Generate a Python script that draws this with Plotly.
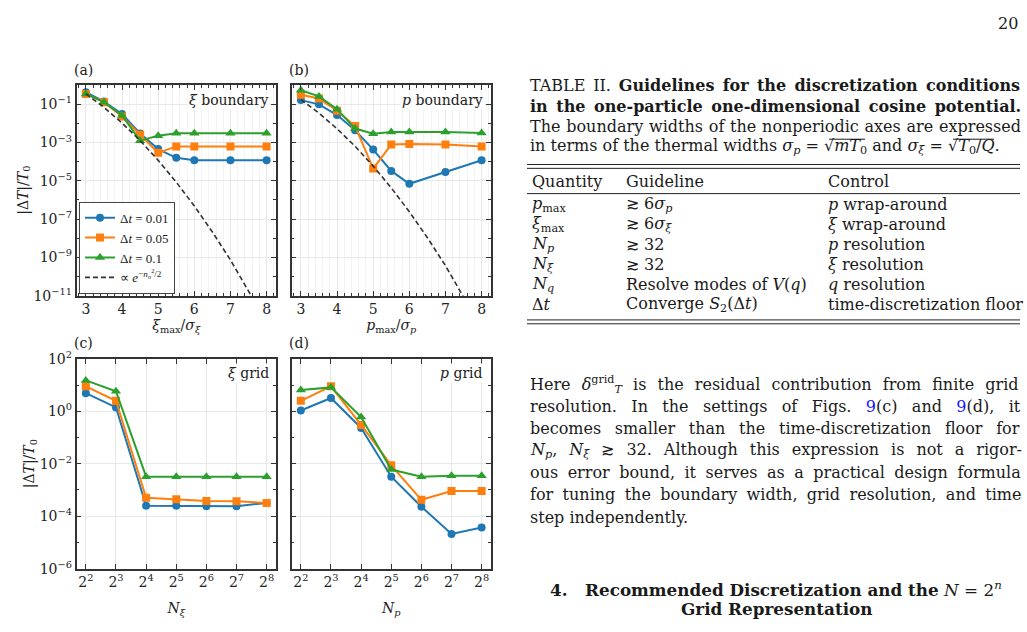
import plotly.graph_objects as go

W, H = 1027, 632

# ---------------- data ----------------
xi_max = [3, 3.5, 4, 4.5, 5, 5.5, 6, 7, 8]
a_dt001 = [0.43, 0.14, 0.031, 3.0e-3, 4.6e-4, 1.6e-4, 1.2e-4, 1.2e-4, 1.2e-4]
a_dt005 = [0.35, 0.13, 0.023, 2.6e-3, 2.9e-4, 6.3e-4, 6.3e-4, 6.3e-4, 6.3e-4]
a_dt01 = [0.35, 0.13, 0.026, 1.26e-3, 2.3e-3, 3.1e-3, 3.1e-3, 3.1e-3, 3.1e-3]

p_max = [3, 3.5, 4, 4.5, 5, 5.5, 6, 7, 8]
b_dt001 = [0.166, 0.10, 0.0275, 4.4e-3, 4.3e-4, 3.3e-5, 7.0e-6, 2.9e-5, 1.2e-4]
b_dt005 = [0.32, 0.20, 0.046, 7.3e-3, 4.4e-5, 7.9e-4, 8.5e-4, 7.9e-4, 6.3e-4]
b_dt01 = [0.54, 0.26, 0.056, 5.4e-3, 2.9e-3, 3.6e-3, 3.6e-3, 3.6e-3, 3.2e-3]

gauss_x = [3, 3.5, 4, 4.5, 5, 5.5, 6, 6.5, 7, 7.5, 8]
a_gauss = [0.352, 0.0693, 0.0106, 1.27e-3, 1.18e-4, 8.57e-6, 4.83e-7, 2.13e-8, 7.3e-10, 1.95e-11, 4.0e-13]
b_gauss = [0.176, 0.0348, 5.32e-3, 6.37e-4, 5.9e-5, 4.3e-6, 2.42e-7, 1.07e-8, 3.66e-10, 9.8e-12, 2.0e-13]

N_grid = [4, 8, 16, 32, 64, 128, 256]
N_ticktext = ["2<sup>%d</sup>" % k for k in range(2, 9)]
c_dt001 = [4.9, 1.4, 2.5e-4, 2.5e-4, 2.4e-4, 2.4e-4, 3.2e-4]
c_dt005 = [8.9, 2.5, 5.0e-4, 4.4e-4, 3.8e-4, 3.7e-4, 3.2e-4]
c_dt01 = [15.0, 5.8, 3.2e-3, 3.2e-3, 3.2e-3, 3.2e-3, 3.2e-3]
d_dt001 = [1.07, 3.2, 0.23, 3.2e-3, 2.3e-4, 2.1e-5, 3.7e-5]
d_dt005 = [2.5, 8.9, 0.30, 8.7e-3, 4.2e-4, 9.1e-4, 9.1e-4]
d_dt01 = [6.5, 8.1, 0.60, 6.0e-3, 3.2e-3, 3.5e-3, 3.5e-3]

series_names = ["Δ<i>t</i> = 0.01", "Δ<i>t</i> = 0.05", "Δ<i>t</i> = 0.1"]
gauss_name = "∝ <i>e</i><sup>−<i>n</i><sub>σ</sub><sup>2</sup>/2</sup>"
ab_yticks = [1e-11, 1e-9, 1e-7, 1e-5, 1e-3, 1e-1]
ab_yticktext = ["10<sup>−11</sup>", "10<sup>−9</sup>", "10<sup>−7</sup>", "10<sup>−5</sup>",
                "10<sup>−3</sup>", "10<sup>−1</sup>"]
cd_yticks = [1e-6, 1e-4, 1e-2, 1e0, 1e2]
cd_yticktext = ["10<sup>−6</sup>", "10<sup>−4</sup>", "10<sup>−2</sup>", "10<sup>0</sup>", "10<sup>2</sup>"]

# ---------------- styles ----------------
COLORS = ["#1f77b4", "#ff7f0e", "#2ca02c"]
SYMBOLS = ["circle", "square", "triangle-up"]
MSIZE = [8, 8, 9]
CHART_FONT = "DejaVu Serif"
TEXT_FONT = "DejaVu Serif"
AXC = "#333333"
GRID = "#e8e8e8"
MINGRID = "#f3f3f3"


def px(x):
    return x / W


def py(y):
    return 1 - y / H


fig = go.Figure()

panels = [
    ("x", "y", xi_max, [a_dt001, a_dt005, a_dt01], gauss_x, a_gauss, True),
    ("x2", "y2", p_max, [b_dt001, b_dt005, b_dt01], gauss_x, b_gauss, False),
    ("x3", "y3", N_grid, [c_dt001, c_dt005, c_dt01], None, None, False),
    ("x4", "y4", N_grid, [d_dt001, d_dt005, d_dt01], None, None, False),
]

for xa, ya, xs, ys_list, gx, gy, show in panels:
    for i, ys in enumerate(ys_list):
        fig.add_trace(go.Scatter(
            x=xs, y=ys, xaxis=xa, yaxis=ya, mode="lines+markers",
            name=series_names[i], showlegend=show, legendrank=i + 1,
            line=dict(color=COLORS[i], width=2),
            marker=dict(color=COLORS[i], symbol=SYMBOLS[i], size=MSIZE[i]),
        ))
    if gx is not None:
        fig.add_trace(go.Scatter(
            x=gx, y=gy, xaxis=xa, yaxis=ya, mode="lines", name=gauss_name,
            showlegend=show, legendrank=4,
            line=dict(color="#333333", width=1.6, dash="5px,3px"),
        ))

# ---------------- axes ----------------
AX_L = (76.5, 276)
AX_R = (291.5, 491)
AX_T = (77, 294)
AX_B = (359, 575)

common = dict(showline=True, linecolor=AXC, linewidth=1.5, mirror="allticks",
              ticks="inside", ticklen=5, tickwidth=1.2, tickcolor=AXC,
              showgrid=True, gridcolor=GRID, gridwidth=1, zeroline=False,
              tickfont=dict(family=CHART_FONT, size=14, color="#222"))

xlin = dict(common, type="linear", range=[2.74, 8.26], tickvals=[3, 4, 5, 6, 7, 8],
            minor=dict(dtick=0.2, tick0=3, ticks="inside", ticklen=3, tickcolor=AXC,
                       showgrid=True, gridcolor=MINGRID))
xlog = dict(common, type="log", range=[1.69 * 0.30103, 8.31 * 0.30103],
            tickvals=N_grid, ticktext=N_ticktext)
yab = dict(common, type="log", range=[-11, 0.02], tickvals=ab_yticks,
           minor=dict(tickvals=[1e-10, 1e-8, 1e-6, 1e-4, 1e-2, 1], ticks="inside",
                      ticklen=3, tickcolor=AXC, showgrid=False))
ycd = dict(common, type="log", range=[-6, 2], tickvals=cd_yticks,
           minor=dict(tickvals=[1e-5, 1e-3, 1e-1, 1e1], ticks="inside",
                      ticklen=3, tickcolor=AXC, showgrid=False))

tfont = dict(family=CHART_FONT, size=14, color="#222")

fig.update_layout(
    xaxis=dict(xlin, domain=[px(AX_L[0]), px(AX_L[1])], anchor="y",
               title=dict(text="<i>ξ</i><sub>max</sub>/<i>σ</i><sub><i>ξ</i></sub>", font=tfont, standoff=4)),
    yaxis=dict(yab, domain=[py(AX_T[1]), py(AX_T[0])], anchor="x", ticktext=ab_yticktext,
               title=dict(text="|Δ<i>T</i>|/<i>T</i><sub>0</sub>", font=tfont, standoff=2)),
    xaxis2=dict(xlin, domain=[px(AX_R[0]), px(AX_R[1])], anchor="y2",
                title=dict(text="<i>p</i><sub>max</sub>/<i>σ</i><sub><i>p</i></sub>", font=tfont, standoff=4)),
    yaxis2=dict(yab, domain=[py(AX_T[1]), py(AX_T[0])], anchor="x2", showticklabels=False),
    xaxis3=dict(xlog, domain=[px(AX_L[0]), px(AX_L[1])], anchor="y3",
                title=dict(text="<i>N</i><sub><i>ξ</i></sub>", font=tfont, standoff=14)),
    yaxis3=dict(ycd, domain=[py(AX_B[1]), py(AX_B[0])], anchor="x3", ticktext=cd_yticktext,
                title=dict(text="|Δ<i>T</i>|/<i>T</i><sub>0</sub>", font=tfont, standoff=2)),
    xaxis4=dict(xlog, domain=[px(AX_R[0]), px(AX_R[1])], anchor="y4",
                title=dict(text="<i>N</i><sub><i>p</i></sub>", font=tfont, standoff=14)),
    yaxis4=dict(ycd, domain=[py(AX_B[1]), py(AX_B[0])], anchor="x4", showticklabels=False),
)

fig.update_layout(
    width=W, height=H, autosize=False,
    margin=dict(l=0, r=0, t=0, b=0),
    paper_bgcolor="white", plot_bgcolor="white",
    font=dict(family=CHART_FONT, color="#222"),
    legend=dict(x=px(79), y=py(292), xanchor="left", yanchor="bottom",
                bgcolor="white", bordercolor="#444", borderwidth=1,
                font=dict(family="Liberation Serif", size=13, color="#222"),
                tracegroupgap=0, itemwidth=30),
)

ann = []


def A(**kw):
    kw.setdefault("xref", "paper")
    kw.setdefault("yref", "paper")
    kw.setdefault("showarrow", False)
    ann.append(kw)


# panel labels
for lab, x, y in [("(a)", 72, 62), ("(b)", 287, 62), ("(c)", 72, 343), ("(d)", 287, 343)]:
    A(text=lab, x=px(x), y=py(y), xanchor="left", yanchor="middle",
      font=dict(family=CHART_FONT, size=14, color="#222"))
# in-panel labels
for lab, x, y in [("<i>ξ</i> boundary", 271, 93), ("<i>p</i> boundary", 485, 93),
                  ("<i>ξ</i> grid", 271, 374), ("<i>p</i> grid", 485, 374)]:
    A(text=lab, x=px(x), y=py(y), xanchor="right", yanchor="middle",
      bgcolor="white", borderpad=1,
      font=dict(family=CHART_FONT, size=14, color="#222"))

# page number
A(text="20", x=px(1020), y=py(14), xanchor="right", yanchor="middle",
  font=dict(family=TEXT_FONT, size=16, color="#222"))

TF = dict(family=TEXT_FONT, size=16, color="#1a1a1a")


def line(text, x, y, anchor="left", ws=None, size=None):
    if ws:
        text = "<span style='word-spacing:%.1fpx'>%s</span>" % (ws, text)
    f = dict(TF)
    if size:
        f["size"] = size
    A(text=text, x=px(x), y=py(y), xanchor=anchor, yanchor="middle", font=f)


# table caption
line("TABLE II. <b>Guidelines for the discretization conditions</b>", 528, 78, ws=2.7)
line("<b>in the one-particle one-dimensional cosine potential.</b>", 528, 99, ws=3.0)
line("The boundary widths of the nonperiodic axes are expressed", 528, 120, ws=0.7)
line("in terms of the thermal widths <i>σ<sub>p</sub></i> = √<i>mT</i><sub>0</sub>"
     " and <i>σ<sub>ξ</sub></i> = √<i>T</i><sub>0</sub>/<i>Q</i>.", 528, 141)

# table
col = [530, 624, 826]
rows = [
    ("Quantity", "Guideline", "Control"),
    ("<i>p</i><sub>max</sub>", "≳ 6<i>σ<sub>p</sub></i>", "<i>p</i> wrap-around"),
    ("<i>ξ</i><sub>max</sub>", "≳ 6<i>σ<sub>ξ</sub></i>", "<i>ξ</i> wrap-around"),
    ("<i>N<sub>p</sub></i>", "≳ 32", "<i>p</i> resolution"),
    ("<i>N<sub>ξ</sub></i>", "≳ 32", "<i>ξ</i> resolution"),
    ("<i>N<sub>q</sub></i>", "Resolve modes of <i>V</i>(<i>q</i>)", "<i>q</i> resolution"),
    ("Δ<i>t</i>", "Converge <i>S</i><sub>2</sub>(Δ<i>t</i>)", "time-discretization floor"),
]
row_y = [177, 200, 221, 241, 262, 283, 303]
for r, yy in zip(rows, row_y):
    for c, xx in zip(r, col):
        line(c, xx, yy)

shapes = []
for yy, w in [(159, 1), (163, 1), (189, 1), (319, 1), (323, 1)]:
    shapes.append(dict(type="line", xref="paper", yref="paper", x0=px(527), x1=px(1020),
                       y0=py(yy), y1=py(yy), line=dict(color="#222", width=w)))
# overbars of the square roots
for x0, x1 in [(829, 865), (953, 994)]:
    shapes.append(dict(type="line", xref="paper", yref="paper", x0=px(x0), x1=px(x1),
                       y0=py(133), y1=py(133), line=dict(color="#1a1a1a", width=1)))

# paragraph
blue = "<span style='color:#1a1aff'>9</span>"
para = [
    "Here <i>δ</i><sup>grid</sup><sub><i>T</i></sub> is the residual contribution from finite grid",
    "resolution. In the settings of Figs. " + blue + "(c) and " + blue + "(d), it",
    "becomes smaller than the time-discretization floor for",
    "<i>N<sub>p</sub></i>, <i>N<sub>ξ</sub></i> ≳ 32. Although this expression is not a rigor-",
    "ous error bound, it serves as a practical design formula",
    "for tuning the boundary width, grid resolution, and time",
    "step independently.",
]
para_ws = [6.0, 9.3, 8.6, 6.9, 4.4, 4.3, None]
para_y = [385, 408, 431, 453, 476, 499, 522]
for t, yy, ws in zip(para, para_y, para_ws):
    line(t, 528, yy, ws=ws)

line("<b>4.   Recommended Discretization and the</b> <i>N</i> = 2<sup><i>n</i></sup>", 776, 596, "center", size=16.8)
line("<b>Grid Representation</b>", 776, 617, "center", size=16.8)

fig.update_layout(annotations=ann, shapes=shapes)

fig.write_html("out.html")
